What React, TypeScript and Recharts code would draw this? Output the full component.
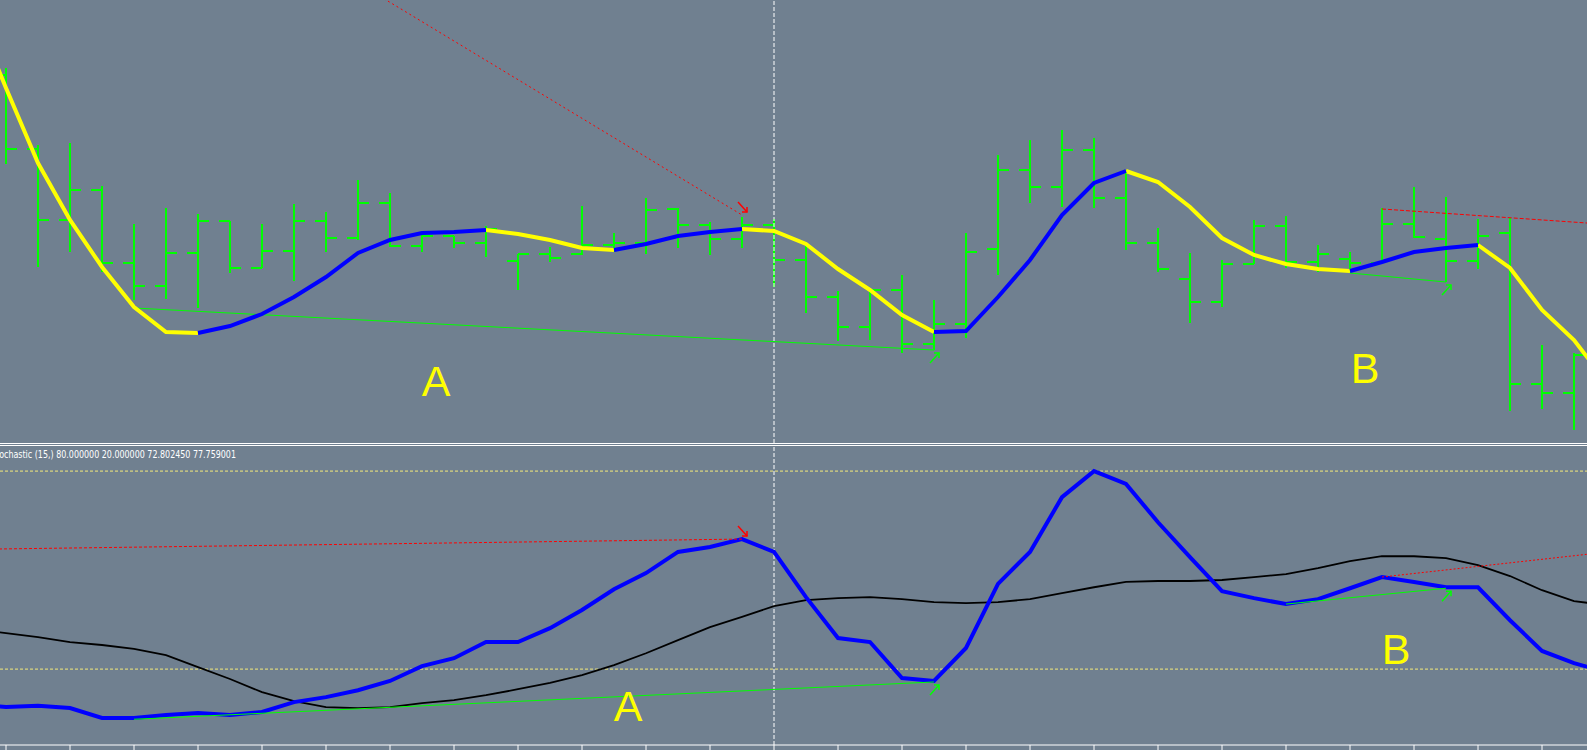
import React from 'react';
import { ComposedChart, Bar, Line, Scatter, XAxis, YAxis, ReferenceLine } from 'recharts';

const BG = '#708090';

// ---- price panel (bar index 0..49) ----
const opens = [365,291,220,250,177,154,187,219,172,189,219,202,237,194,204,197,179,186,186,195,197,231,215,201,215,180,143,113,150,96,116,191,270,253,290,242,197,161,138,176,214,178,181,177,216,201,179,207,56,47];
const highs = [372,295,297,254,216,232,226,219,216,236,228,260,247,205,204,214,186,193,234,207,242,232,218,223,221,195,149,150,165,140,207,285,300,310,302,270,212,187,180,220,224,195,188,232,253,243,221,222,95,87];
const lows = [276,173,188,168,140,141,132,167,172,159,188,200,193,188,192,183,150,178,185,188,186,192,185,192,153,127,99,100,87,90,102,165,237,233,232,190,168,117,133,176,172,168,167,177,202,158,171,29,31,10];
const closes = [291,220,250,177,154,187,219,172,189,219,202,237,194,204,197,211,186,182,195,197,230,215,201,215,180,143,113,150,96,116,188,270,253,290,242,197,171,138,176,214,178,186,177,216,203,179,204,56,47,85];

// moving average for index -1 .. 50
const maIndex = [-1,0,1,2,3,4,5,6,7,8,9,10,11,12,13,14,15,16,17,18,19,20,21,22,23,24,25,26,27,28,29,30,31,32,33,34,35,36,37,38,39,40,41,42,43,44,45,46,47,48,49,50];
const maValues = [430,352,277,220,173,133,108,107,114,126,143,163,187,200,207,208,210,206,200,192,190,196,204,208,211,209,196,171,150,125,108,109,143,180,225,257,269,258,233,202,185,176,171,169,178,188,192,195,172,130,100,58];
const yellowSegments = [[-1,6],[15,19],[23,29],[35,42],[46,50]];
const blueSegments = [[6,15],[19,23],[29,35],[42,46]];

// stochastic for index -1 .. 50
const stochK = [9.4,8.5,8.9,8.2,5.2,5.2,6.1,6.7,6.1,7.0,10.0,11.5,13.6,16.4,20.9,23.3,28.2,28.2,32.4,37.9,44.2,49.1,55.5,57.0,59.4,55.5,41.8,29.4,28.2,17.3,16.4,26.4,45.8,55.5,72.1,80.0,76.1,64.5,53.9,43.6,41.5,39.7,41.2,44.5,47.9,46.4,44.8,44.8,34.8,25.5,21.8,19.1];
const stochD = [32.1,30.9,29.7,28.2,27.3,26.1,24.2,20.6,17.0,13.0,10.3,8.5,8.2,8.5,9.7,10.6,12.1,13.9,15.8,18.2,21.2,24.8,28.8,32.7,35.8,39.1,40.9,41.5,41.8,41.2,40.3,40.0,40.3,41.2,43.0,44.8,46.4,46.7,46.7,47.0,47.9,48.8,50.6,52.7,54.2,54.2,53.6,51.5,48.2,43.9,40.6,39.4];
const stochLevels = [80, 20];
const axisTicks = [0,2,4,6,8,10,12,14,16,18,20,22,24,26,28,30,32,34,36,38,40,42,44,46,48];
const cursorBar = 24;
const stochCaption = 'Stochastic (15,) 80.000000 20.000000 72.802450 77.759001';

// divergence lines (bar index, value)
const topRedA = [{ i: 11, v: 457 }, { i: 23, v: 225 }];
const topRedB = [{ i: 43, v: 231 }, { i: 51, v: 213.5 }];
const topGreenA = [{ i: 4, v: 132 }, { i: 29, v: 90 }];
const topGreenB = [{ i: 42, v: 167 }, { i: 45, v: 158 }];
const botRedA = [{ i: -1, v: 56.3 }, { i: 23, v: 59.4 }];
const botRedB = [{ i: 43, v: 47.9 }, { i: 51, v: 56.5 }];
const botGreenA = [{ i: 4, v: 4.8 }, { i: 29, v: 16.1 }];
const botGreenB = [{ i: 40, v: 39.7 }, { i: 45, v: 44.5 }];

const topArrows = [
  { i: 23, v: 225, dir: 'down', color: '#ff0000' },
  { i: 29, v: 90, dir: 'up', color: '#00ff00' },
  { i: 45, v: 158, dir: 'up', color: '#00ff00' },
];
const botArrows = [
  { i: 23, v: 59.4, dir: 'down', color: '#ff0000' },
  { i: 29, v: 16.1, dir: 'up', color: '#00ff00' },
  { i: 45, v: 44.5, dir: 'up', color: '#00ff00' },
];
const topLabels = [{ i: 13.44, v: 44, text: 'A' }, { i: 42.47, v: 57, text: 'B' }];
const botLabels = [{ i: 19.44, v: 4.2, text: 'A' }, { i: 43.44, v: 21.5, text: 'B' }];

const inSeg = (segs: number[][], i: number) => segs.some(([a, b]) => i >= a && i <= b);

const topData = maIndex.map((i, k) => {
  const has = i >= 0 && i < opens.length;
  return {
    i,
    range: has ? [lows[i], highs[i]] : null,
    open: has ? opens[i] : null,
    high: has ? highs[i] : null,
    low: has ? lows[i] : null,
    close: has ? closes[i] : null,
    maY: inSeg(yellowSegments, i) ? maValues[k] : null,
    maB: inSeg(blueSegments, i) ? maValues[k] : null,
  };
});

const botData = maIndex.map((i, k) => ({ i, k: stochK[k], d: stochD[k] }));

const X_DOMAIN: [number, number] = [-0.1875, 49.40625];
const TICK_LEN = 11;

const OhlcShape = (props: any) => {
  const { x, y, width, height, payload } = props;
  if (!payload || payload.high == null) return <g />;
  const top = Math.min(y, y + height);
  const h = Math.abs(height);
  const cx = Math.round(x + width / 2);
  const span = payload.high - payload.low;
  const py = (v: number) => top + ((payload.high - v) / span) * h;
  return (
    <g stroke="#00ff00" strokeWidth={2} shapeRendering="crispEdges">
      <line x1={cx} x2={cx} y1={top} y2={top + h} />
      <line x1={cx - TICK_LEN} x2={cx} y1={py(payload.open)} y2={py(payload.open)} />
      <line x1={cx} x2={cx + TICK_LEN} y1={py(payload.close)} y2={py(payload.close)} />
    </g>
  );
};

const ArrowShape = (props: any) => {
  const { cx, cy, payload } = props;
  if (cx == null || cy == null) return <g />;
  const up = payload.dir === 'up';
  const tx = cx + 5;
  const ty = up ? cy + 3 : cy - 3;
  const sx = cx - 4;
  const sy = up ? cy + 13 : cy - 13;
  const hy = up ? ty + 5 : ty - 5;
  return (
    <g stroke={payload.color} strokeWidth={1.5} fill="none">
      <line x1={sx} y1={sy} x2={tx} y2={ty} />
      <polyline points={`${tx - 5},${ty} ${tx},${ty} ${tx},${hy}`} />
    </g>
  );
};

const LabelShape = (props: any) => {
  const { cx, cy, payload } = props;
  if (cx == null || cy == null) return <g />;
  return (
    <text x={cx} y={cy} textAnchor="middle" fill="#ffff00" fontSize={43}
      fontFamily="'Liberation Sans', Arial, sans-serif">{payload.text}</text>
  );
};

const EmptyTick = () => <g />;

export default function App() {
  return (
    <div style={{ position: 'absolute', left: 0, top: 0, width: 1587, height: 750, background: BG, overflow: 'hidden' }}>
      <div style={{ position: 'absolute', left: 0, top: 0 }}>
        <ComposedChart width={1587} height={443} data={topData} margin={{ top: 0, right: 0, bottom: 0, left: 0 }}>
          <XAxis dataKey="i" type="number" domain={X_DOMAIN} allowDataOverflow hide />
          <YAxis type="number" domain={[-3, 440]} allowDataOverflow hide />
          <ReferenceLine x={cursorBar} stroke="#ffffff" strokeDasharray="4 2" strokeWidth={1} />
          <Bar dataKey="range" barSize={22} shape={OhlcShape} isAnimationActive={false} />
          <Line data={topGreenA} dataKey="v" stroke="#00ff00" strokeWidth={1} dot={false} activeDot={false} isAnimationActive={false} />
          <Line data={topGreenB} dataKey="v" stroke="#00ff00" strokeWidth={1} dot={false} activeDot={false} isAnimationActive={false} />
          <Line data={topRedA} dataKey="v" stroke="#ff0000" strokeWidth={1} strokeDasharray="2 3" dot={false} activeDot={false} isAnimationActive={false} />
          <Line data={topRedB} dataKey="v" stroke="#ff0000" strokeWidth={1} strokeDasharray="4 2" dot={false} activeDot={false} isAnimationActive={false} />
          <Line dataKey="maY" stroke="#ffff00" strokeWidth={4} dot={false} activeDot={false} connectNulls={false} isAnimationActive={false} />
          <Line dataKey="maB" stroke="#0000ff" strokeWidth={4} dot={false} activeDot={false} connectNulls={false} isAnimationActive={false} />
          <Scatter data={topArrows} dataKey="v" shape={ArrowShape} isAnimationActive={false} />
          <Scatter data={topLabels} dataKey="v" shape={LabelShape} isAnimationActive={false} />
        </ComposedChart>
      </div>
      <div style={{ position: 'absolute', left: 0, top: 443, width: 1587, height: 1, background: '#ffffff' }} />
      <div style={{ position: 'absolute', left: 0, top: 445, width: 1587, height: 1, background: '#ffffff' }} />
      <div style={{ position: 'absolute', left: 0, top: 445 }}>
        <ComposedChart width={1587} height={305} data={botData} margin={{ top: 2, right: 0, bottom: 0, left: 0 }}>
          <XAxis dataKey="i" type="number" domain={X_DOMAIN} allowDataOverflow ticks={axisTicks} height={5}
            tick={EmptyTick} tickSize={5} tickLine={{ stroke: '#ffffff' }} axisLine={{ stroke: '#ffffff' }} />
          <YAxis type="number" domain={[-3, 87.3]} allowDataOverflow hide />
          {stochLevels.map((lv) => (
            <ReferenceLine key={lv} y={lv} stroke="#f4ea7a" strokeDasharray="3 2" strokeWidth={1} />
          ))}
          <ReferenceLine x={cursorBar} stroke="#ffffff" strokeDasharray="4 2" strokeWidth={1} />
          <Line dataKey="d" stroke="#000000" strokeWidth={1.8} dot={false} activeDot={false} isAnimationActive={false} />
          <Line dataKey="k" stroke="#0000ff" strokeWidth={4} dot={false} activeDot={false} isAnimationActive={false} />
          <Line data={botGreenA} dataKey="v" stroke="#00ff00" strokeWidth={1} dot={false} activeDot={false} isAnimationActive={false} />
          <Line data={botGreenB} dataKey="v" stroke="#00ff00" strokeWidth={1} dot={false} activeDot={false} isAnimationActive={false} />
          <Line data={botRedA} dataKey="v" stroke="#ff0000" strokeWidth={1} strokeDasharray="3 2" dot={false} activeDot={false} isAnimationActive={false} />
          <Line data={botRedB} dataKey="v" stroke="#ff0000" strokeWidth={1} strokeDasharray="2 2" dot={false} activeDot={false} isAnimationActive={false} />
          <Scatter data={botArrows} dataKey="v" shape={ArrowShape} isAnimationActive={false} />
          <Scatter data={botLabels} dataKey="v" shape={LabelShape} isAnimationActive={false} />
        </ComposedChart>
      </div>
      <svg style={{ position: 'absolute', left: 0, top: 445 }} width={400} height={20}>
        <text x={-9} y={13} fill="#ffffff" fontSize={10} fontFamily="'DejaVu Sans', sans-serif"
          textLength={245} lengthAdjust="spacingAndGlyphs">{stochCaption}</text>
      </svg>
    </div>
  );
}
